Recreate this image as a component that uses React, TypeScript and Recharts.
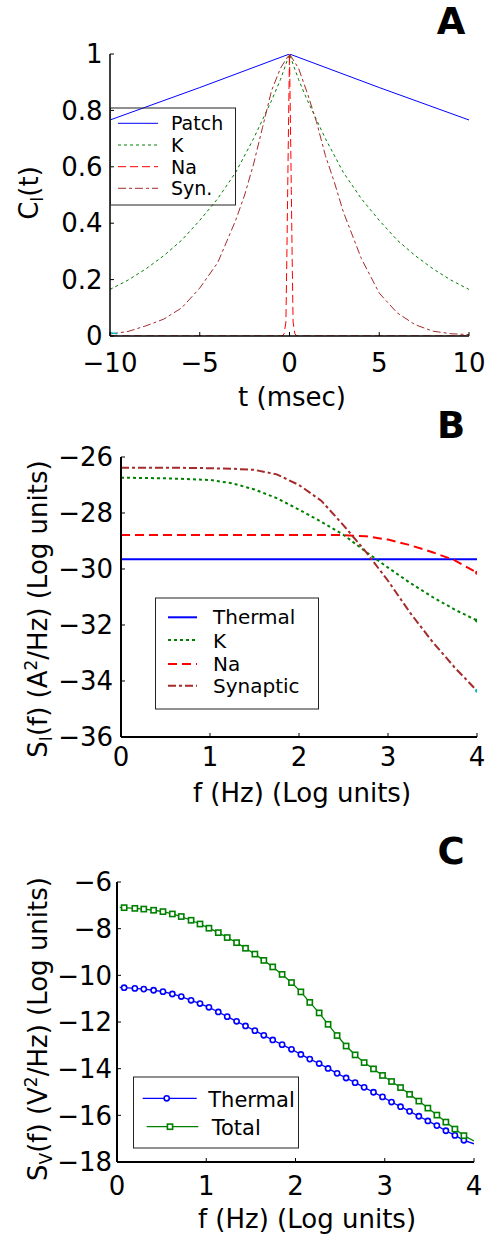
import React from "react";
import { LineChart, Line, XAxis, YAxis } from "recharts";

const FONT = "DejaVu Sans";
const BLUE = "#0000ff";
const GREEN = "#008000";
const RED = "#ff0000";
const BROWN = "#a52a2a";
const CYAN = "#00bfbf";

// ---- Panel A: current autocorrelation C_I(t) ----
const tPatch = [-10, -5, 0, 5, 10];
const cPatch = [0.766, 0.881, 1, 0.881, 0.766];

const tK = [-10, -9, -8, -7, -6, -5, -4, -3, -2, -1, -0.5, 0, 0.5, 1, 2, 3, 4, 5, 6, 7, 8, 9, 10];
const cK = [0.165, 0.198, 0.238, 0.285, 0.34, 0.41, 0.487, 0.58, 0.7, 0.835, 0.91, 1, 0.91, 0.835, 0.7, 0.58, 0.487, 0.41, 0.34, 0.285, 0.238, 0.198, 0.165];

const tNa = [-10, -0.4, -0.3, -0.2, -0.15, -0.1, -0.05, 0, 0.05, 0.1, 0.15, 0.2, 0.3, 0.4, 10];
const cNa = [0, 0, 0.008, 0.05, 0.27, 0.52, 0.77, 1, 0.77, 0.52, 0.27, 0.05, 0.008, 0, 0];

const tSyn = [-10, -9, -8, -7, -6, -5, -4, -3, -2.5, -2, -1.5, -1, -0.5, 0, 0.5, 1, 1.5, 2, 2.5, 3, 4, 5, 6, 7, 8, 9, 10];
const cSyn = [0.007, 0.016, 0.036, 0.06, 0.1, 0.17, 0.26, 0.41, 0.5, 0.61, 0.74, 0.87, 0.95, 1, 0.95, 0.86, 0.76, 0.64, 0.545, 0.44, 0.275, 0.152, 0.082, 0.04, 0.017, 0.008, 0.005];

const tCyan = [-10, -9.6];
const cCyan = [0.012, 0.008];

const ticksTA = [-10, -5, 0, 5, 10];
const ticksCA = [0, 0.2, 0.4, 0.6, 0.8, 1];

// ---- Panel B: current spectra S_I(f) ----
const fThermalB = [0, 4];
const sThermalB = [-29.65, -29.65];
const fB = [0, 0.5, 1, 1.25, 1.5, 1.75, 2, 2.25, 2.5, 2.75, 3, 3.25, 3.5, 3.75, 4];
const sKB = [-26.74, -26.76, -26.82, -26.94, -27.16, -27.47, -27.88, -28.31, -28.78, -29.38, -29.95, -30.5, -31.0, -31.45, -31.84];
const sNaB = [-28.79, -28.79, -28.79, -28.79, -28.79, -28.79, -28.79, -28.79, -28.79, -28.83, -28.95, -29.15, -29.4, -29.69, -30.13];
const sSynB = [-26.38, -26.38, -26.4, -26.42, -26.46, -26.62, -27.0, -27.56, -28.44, -29.38, -30.42, -31.57, -32.6, -33.52, -34.35];

const ticksFB = [0, 1, 2, 3, 4];
const ticksSB = [-36, -34, -32, -30, -28, -26];

// ---- Panel C: voltage spectra S_V(f) ----
const fC = [0.08, 0.2, 0.3, 0.41, 0.515, 0.62, 0.72, 0.83, 0.93, 1.03, 1.135, 1.235, 1.34, 1.44, 1.545, 1.645, 1.745, 1.85, 1.955, 2.06, 2.16, 2.265, 2.365, 2.466, 2.567, 2.668, 2.769, 2.874, 2.975, 3.076, 3.177, 3.278, 3.382, 3.483, 3.584, 3.685, 3.786, 3.887];
const sTotalC = [-7.1, -7.13, -7.16, -7.21, -7.27, -7.37, -7.48, -7.64, -7.8, -7.98, -8.17, -8.38, -8.6, -8.84, -9.09, -9.36, -9.64, -9.96, -10.31, -10.71, -11.16, -11.61, -12.1, -12.58, -13.03, -13.41, -13.74, -14.01, -14.29, -14.55, -14.81, -15.1, -15.39, -15.69, -15.99, -16.29, -16.59, -16.87];
const sThermalC = [-10.53, -10.56, -10.59, -10.64, -10.7, -10.8, -10.91, -11.07, -11.21, -11.37, -11.57, -11.77, -11.97, -12.17, -12.37, -12.57, -12.77, -12.97, -13.17, -13.39, -13.59, -13.78, -13.99, -14.2, -14.4, -14.6, -14.8, -15.01, -15.21, -15.43, -15.63, -15.83, -16.04, -16.24, -16.44, -16.66, -16.86, -17.07];
// line ends beyond the first/last marker
const fCEnds = [0.03, 4];
const sTotalEnds = [-7.09, -17.1];
const sThermalEnds = [-10.52, -17.22];

const ticksFC = [0, 1, 2, 3, 4];
const ticksSC = [-18, -16, -14, -12, -10, -8, -6];

const pts = (xs: number[], ys: number[]) => xs.map((x, i) => ({ x, y: ys[i] }));
const withEnds = (xs: number[], ys: number[], ex: number[], ey: number[]) =>
  [{ x: ex[0], y: ey[0] }, ...pts(xs, ys), { x: ex[1], y: ey[1] }];

const minus = (v: number) => (v < 0 ? `\u2212${Math.abs(v)}` : `${v}`);
const blank = () => "";

const TICK = { fill: "#000", fontSize: 26, fontFamily: FONT };

// frame: labelled bottom/left axes plus empty top/right axes, all ticks pointing inward
function frameAxes(o: {
  xDomain: number[]; xTicks: number[]; yDomain: number[]; yTicks: number[];
  yWidth: number; xMargin: number; yMargin: number; sw: number;
}) {
  const common = { type: "number" as const, allowDataOverflow: true, interval: 0 as const, stroke: "#000", tickSize: -4 };
  return [
    <XAxis key="xb" xAxisId="b" dataKey="x" domain={o.xDomain} ticks={o.xTicks} height={30}
      tickMargin={o.xMargin} tick={TICK} tickFormatter={minus} axisLine={{ strokeWidth: o.sw }} {...common} />,
    <XAxis key="xt" xAxisId="t" orientation="top" dataKey="x" domain={o.xDomain} ticks={o.xTicks} height={0}
      tickFormatter={blank} axisLine={{ strokeWidth: o.sw }} {...common} />,
    <YAxis key="yl" yAxisId="l" domain={o.yDomain} ticks={o.yTicks} width={o.yWidth}
      tickMargin={o.yMargin} tick={TICK} tickFormatter={minus} axisLine={{ strokeWidth: o.sw }} {...common} />,
    <YAxis key="yr" yAxisId="r" orientation="right" domain={o.yDomain} ticks={o.yTicks} width={0}
      tickFormatter={blank} axisLine={{ strokeWidth: o.sw }} {...common} />,
  ];
}

const endDot = (n: number, color: string) => (p: any) =>
  p.index === n - 1 ? <circle key={p.index} cx={p.cx} cy={p.cy} r={2} fill={color} /> : <g key={p.index} />;

const circleDot = (n: number) => (p: any) =>
  p.index === 0 || p.index === n - 1 ? <g key={p.index} /> :
    <circle key={p.index} cx={p.cx} cy={p.cy} r={2.6} fill="#fff" stroke={BLUE} strokeWidth={1.6} />;

const squareDot = (n: number) => (p: any) =>
  p.index === 0 || p.index === n - 1 ? <g key={p.index} /> :
    <rect key={p.index} x={p.cx - 2.6} y={p.cy - 2.6} width={5.2} height={5.2} fill="#fff" stroke={GREEN} strokeWidth={1.6} />;

const lineBase = { xAxisId: "b", yAxisId: "l", dataKey: "y", isAnimationActive: false, activeDot: false as const };

export default function App() {
  const thermalLine = withEnds(fC, sThermalC, fCEnds, sThermalEnds);
  const totalLine = withEnds(fC, sTotalC, fCEnds, sTotalEnds);

  return (
    <div style={{ position: "absolute", left: 0, top: 0, width: 493, height: 1241, background: "#fff" }}>
      <div style={{ position: "absolute", left: 0, top: 0 }}>
        <LineChart width={493} height={400} margin={{ top: 54, right: 24, bottom: 34, left: 0 }}>
          {frameAxes({ xDomain: [-10, 10], xTicks: ticksTA, yDomain: [0, 1], yTicks: ticksCA, yWidth: 110, xMargin: 22, yMargin: 11.5, sw: 1.5 })}
          <Line {...lineBase} data={pts(tPatch, cPatch)} stroke={BLUE} strokeWidth={1} dot={false} />
          <Line {...lineBase} data={pts(tK, cK)} stroke={GREEN} strokeWidth={1} strokeDasharray="3 3" dot={false} />
          <Line {...lineBase} data={pts(tNa, cNa)} stroke={RED} strokeWidth={1} strokeDasharray="8 4" dot={false} />
          <Line {...lineBase} data={pts(tSyn, cSyn)} stroke={BROWN} strokeWidth={1} strokeDasharray="8 3 3 3" dot={false} />
          <Line {...lineBase} data={pts(tCyan, cCyan)} stroke={CYAN} strokeWidth={1.5} dot={false} />
        </LineChart>
      </div>

      <div style={{ position: "absolute", left: 0, top: 420 }}>
        <LineChart width={493} height={400} margin={{ top: 37, right: 16, bottom: 53, left: 0 }}>
          {frameAxes({ xDomain: [0, 4], xTicks: ticksFB, yDomain: [-36, -26], yTicks: ticksSB, yWidth: 121, xMargin: 15, yMargin: 12, sw: 2 })}
          <Line {...lineBase} data={pts(fThermalB, sThermalB)} stroke={BLUE} strokeWidth={2} dot={false} />
          <Line {...lineBase} data={pts(fB, sKB)} stroke={GREEN} strokeWidth={2} strokeDasharray="3 3" dot={endDot(fB.length, GREEN)} />
          <Line {...lineBase} data={pts(fB, sNaB)} stroke={RED} strokeWidth={2} strokeDasharray="9 5" dot={endDot(fB.length, RED)} />
          <Line {...lineBase} data={pts(fB, sSynB)} stroke={BROWN} strokeWidth={2} strokeDasharray="8 3 3 3" dot={endDot(fB.length, CYAN)} />
        </LineChart>
      </div>

      <div style={{ position: "absolute", left: 0, top: 840 }}>
        <LineChart width={493} height={400} margin={{ top: 42, right: 19, bottom: 48, left: 0 }}>
          {frameAxes({ xDomain: [0, 4], xTicks: ticksFC, yDomain: [-18, -6], yTicks: ticksSC, yWidth: 117, xMargin: 18.5, yMargin: 9, sw: 2 })}
          <Line {...lineBase} data={thermalLine} stroke={BLUE} strokeWidth={1.3} dot={circleDot(thermalLine.length)} />
          <Line {...lineBase} data={totalLine} stroke={GREEN} strokeWidth={1.3} dot={squareDot(totalLine.length)} />
        </LineChart>
      </div>

      <svg width={493} height={1241} style={{ position: "absolute", left: 0, top: 0, pointerEvents: "none" }} fontFamily={FONT}>
        {/* panel letters */}
        <g fontWeight="bold" fontSize={37} textAnchor="middle">
          <text x={451} y={34}>A</text>
          <text x={451} y={438}>B</text>
          <text x={451} y={864}>C</text>
        </g>

        {/* axis titles */}
        <g fontSize={26} textAnchor="middle" style={{ whiteSpace: "pre" }}>
          <text x={292} y={406}>t (msec)</text>
          <text x={302} y={802}>f (Hz) (Log units)</text>
          <text x={307} y={1228}>f (Hz) (Log units)</text>
          <text transform="translate(38,193) rotate(-90)">
            C<tspan fontSize={17} dy={5}>I</tspan><tspan dy={-5}>(t)</tspan>
          </text>
          <text transform="translate(47,609) rotate(-90)">
            S<tspan fontSize={17} dy={5}>I</tspan><tspan dy={-5}>(f)  (A</tspan><tspan fontSize={17} dy={-10}>2</tspan><tspan dy={10}>/Hz)  (Log units)</tspan>
          </text>
          <text transform="translate(47,1029) rotate(-90)">
            S<tspan fontSize={17} dy={5}>V</tspan><tspan dy={-5}>(f)  (V</tspan><tspan fontSize={17} dy={-10}>2</tspan><tspan dy={10}>/Hz)  (Log units)</tspan>
          </text>
        </g>

        {/* legend A */}
        <g fontSize={19}>
          <rect x={110.5} y={108} width={125} height={97} fill="none" stroke="#222" strokeWidth={1} />
          <line x1={118} x2={158} y1={123.3} y2={123.3} stroke={BLUE} strokeWidth={1} />
          <line x1={118} x2={158} y1={145} y2={145} stroke={GREEN} strokeWidth={1} strokeDasharray="3 3" />
          <line x1={118} x2={158} y1={166.7} y2={166.7} stroke={RED} strokeWidth={1} strokeDasharray="8 4" />
          <line x1={118} x2={158} y1={188.3} y2={188.3} stroke={BROWN} strokeWidth={1} strokeDasharray="8 3 3 3" />
          <text x={171} y={130}>Patch</text>
          <text x={171} y={151.5}>K</text>
          <text x={171} y={173.5}>Na</text>
          <text x={171} y={195}>Syn.</text>
        </g>

        {/* legend B */}
        <g fontSize={20}>
          <rect x={155.5} y={598} width={163} height={111} fill="#fff" stroke="#222" strokeWidth={1} />
          <line x1={168} x2={197} y1={617.3} y2={617.3} stroke={BLUE} strokeWidth={2} />
          <line x1={168} x2={197} y1={640} y2={640} stroke={GREEN} strokeWidth={2} strokeDasharray="3 3" />
          <line x1={168} x2={197} y1={664} y2={664} stroke={RED} strokeWidth={2} strokeDasharray="9 5" />
          <line x1={168} x2={197} y1={685.7} y2={685.7} stroke={BROWN} strokeWidth={2} strokeDasharray="8 3 3 3" />
          <text x={213} y={624}>Thermal</text>
          <text x={213} y={647.5}>K</text>
          <text x={213} y={671}>Na</text>
          <text x={213} y={693}>Synaptic</text>
        </g>

        {/* legend C */}
        <g fontSize={21}>
          <rect x={133.5} y={1077} width={165} height={71} fill="#fff" stroke="#222" strokeWidth={1} />
          <line x1={142.7} x2={196.7} y1={1098.3} y2={1098.3} stroke={BLUE} strokeWidth={1.3} />
          <circle cx={166.7} cy={1098.3} r={2.6} fill="#fff" stroke={BLUE} strokeWidth={1.6} />
          <line x1={146.7} x2={198.3} y1={1126.7} y2={1126.7} stroke={GREEN} strokeWidth={1.3} />
          <rect x={167.4} y={1124.1} width={5.2} height={5.2} fill="#fff" stroke={GREEN} strokeWidth={1.6} />
          <text x={208.3} y={1106.7}>Thermal</text>
          <text x={211.7} y={1135}>Total</text>
        </g>
      </svg>
    </div>
  );
}
